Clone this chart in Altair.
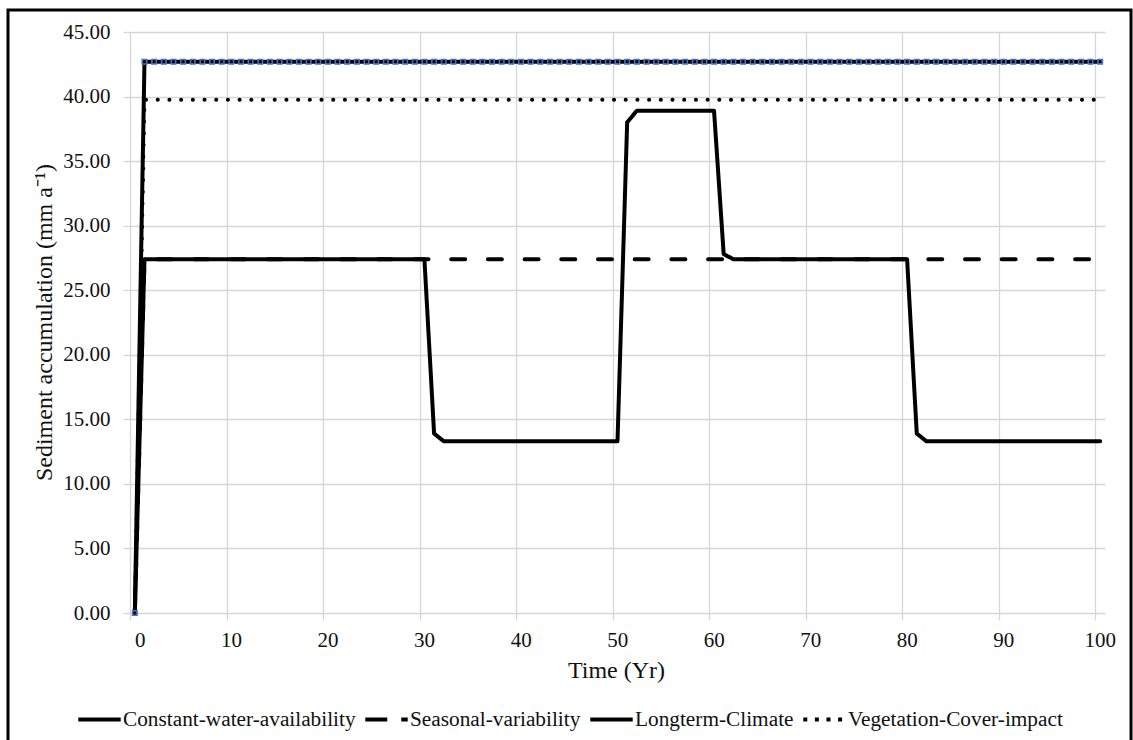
import altair as alt
import pandas as pd

# Model years 0..100
years = list(range(101))

series_names = [
    "Constant-water-availability",
    "Seasonal-variability",
    "Longterm-Climate",
    "Vegetation-Cover-impact",
]

# Sediment accumulation (mm a-1) per year, one list per scenario
constant_water = [
    0.00,
    42.70, 42.70, 42.70, 42.70, 42.70, 42.70, 42.70, 42.70, 42.70, 42.70,
    42.70, 42.70, 42.70, 42.70, 42.70, 42.70, 42.70, 42.70, 42.70, 42.70,
    42.70, 42.70, 42.70, 42.70, 42.70, 42.70, 42.70, 42.70, 42.70, 42.70,
    42.70, 42.70, 42.70, 42.70, 42.70, 42.70, 42.70, 42.70, 42.70, 42.70,
    42.70, 42.70, 42.70, 42.70, 42.70, 42.70, 42.70, 42.70, 42.70, 42.70,
    42.70, 42.70, 42.70, 42.70, 42.70, 42.70, 42.70, 42.70, 42.70, 42.70,
    42.70, 42.70, 42.70, 42.70, 42.70, 42.70, 42.70, 42.70, 42.70, 42.70,
    42.70, 42.70, 42.70, 42.70, 42.70, 42.70, 42.70, 42.70, 42.70, 42.70,
    42.70, 42.70, 42.70, 42.70, 42.70, 42.70, 42.70, 42.70, 42.70, 42.70,
    42.70, 42.70, 42.70, 42.70, 42.70, 42.70, 42.70, 42.70, 42.70, 42.70,
]

seasonal = [
    0.00,
    27.40, 27.40, 27.40, 27.40, 27.40, 27.40, 27.40, 27.40, 27.40, 27.40,
    27.40, 27.40, 27.40, 27.40, 27.40, 27.40, 27.40, 27.40, 27.40, 27.40,
    27.40, 27.40, 27.40, 27.40, 27.40, 27.40, 27.40, 27.40, 27.40, 27.40,
    27.40, 27.40, 27.40, 27.40, 27.40, 27.40, 27.40, 27.40, 27.40, 27.40,
    27.40, 27.40, 27.40, 27.40, 27.40, 27.40, 27.40, 27.40, 27.40, 27.40,
    27.40, 27.40, 27.40, 27.40, 27.40, 27.40, 27.40, 27.40, 27.40, 27.40,
    27.40, 27.40, 27.40, 27.40, 27.40, 27.40, 27.40, 27.40, 27.40, 27.40,
    27.40, 27.40, 27.40, 27.40, 27.40, 27.40, 27.40, 27.40, 27.40, 27.40,
    27.40, 27.40, 27.40, 27.40, 27.40, 27.40, 27.40, 27.40, 27.40, 27.40,
    27.40, 27.40, 27.40, 27.40, 27.40, 27.40, 27.40, 27.40, 27.40, 27.40,
]

longterm = [
    0.00,
    27.40, 27.40, 27.40, 27.40, 27.40, 27.40, 27.40, 27.40, 27.40, 27.40,
    27.40, 27.40, 27.40, 27.40, 27.40, 27.40, 27.40, 27.40, 27.40, 27.40,
    27.40, 27.40, 27.40, 27.40, 27.40, 27.40, 27.40, 27.40, 27.40, 27.40,
    13.90, 13.30, 13.30, 13.30, 13.30, 13.30, 13.30, 13.30, 13.30, 13.30,
    13.30, 13.30, 13.30, 13.30, 13.30, 13.30, 13.30, 13.30, 13.30, 13.30,
    38.00, 38.90, 38.90, 38.90, 38.90, 38.90, 38.90, 38.90, 38.90, 38.90,
    27.80, 27.40, 27.40, 27.40, 27.40, 27.40, 27.40, 27.40, 27.40, 27.40,
    27.40, 27.40, 27.40, 27.40, 27.40, 27.40, 27.40, 27.40, 27.40, 27.40,
    13.90, 13.30, 13.30, 13.30, 13.30, 13.30, 13.30, 13.30, 13.30, 13.30,
    13.30, 13.30, 13.30, 13.30, 13.30, 13.30, 13.30, 13.30, 13.30, 13.30,
]

vegetation = [
    0.00,
    39.75, 39.75, 39.75, 39.75, 39.75, 39.75, 39.75, 39.75, 39.75, 39.75,
    39.75, 39.75, 39.75, 39.75, 39.75, 39.75, 39.75, 39.75, 39.75, 39.75,
    39.75, 39.75, 39.75, 39.75, 39.75, 39.75, 39.75, 39.75, 39.75, 39.75,
    39.75, 39.75, 39.75, 39.75, 39.75, 39.75, 39.75, 39.75, 39.75, 39.75,
    39.75, 39.75, 39.75, 39.75, 39.75, 39.75, 39.75, 39.75, 39.75, 39.75,
    39.75, 39.75, 39.75, 39.75, 39.75, 39.75, 39.75, 39.75, 39.75, 39.75,
    39.75, 39.75, 39.75, 39.75, 39.75, 39.75, 39.75, 39.75, 39.75, 39.75,
    39.75, 39.75, 39.75, 39.75, 39.75, 39.75, 39.75, 39.75, 39.75, 39.75,
    39.75, 39.75, 39.75, 39.75, 39.75, 39.75, 39.75, 39.75, 39.75, 39.75,
    39.75, 39.75, 39.75, 39.75, 39.75, 39.75, 39.75, 39.75, 39.75, 39.75,
]

x_ticks = [0, 10, 20, 30, 40, 50, 60, 70, 80, 90, 100]
y_ticks = [0, 5, 10, 15, 20, 25, 30, 35, 40, 45]

# long table; drawing order: dotted and dashed first, solid on top
draw_order = [
    ("Vegetation-Cover-impact", vegetation),
    ("Seasonal-variability", seasonal),
    ("Constant-water-availability", constant_water),
    ("Longterm-Climate", longterm),
]
rows = []
for name, vals in draw_order:
    for t, v in zip(years, vals):
        rows.append({"year": t, "value": v, "series": name})
df = pd.DataFrame(rows)

FONT = "Liberation Serif"
GRID = "#d6d6d6"
INK = "#111111"

# categories sit in the middle of each yearly slot
base = alt.Chart(df).transform_calculate(xpos="datum.year + 0.5")

x_enc = alt.X(
    "xpos:Q",
    scale=alt.Scale(domain=[0, 101], nice=False, zero=False),
    axis=alt.Axis(
        values=x_ticks,
        format="d",
        title="Time (Yr)",
        titleX=486,
        titleY=64,
        titleBaseline="alphabetic",
        titleAlign="center",
        labelOffset=4.5,
        labelPadding=9,
        tickSize=7,
        domain=False,
    ),
)
y_enc = alt.Y(
    "value:Q",
    scale=alt.Scale(domain=[0, 45], nice=False),
    axis=alt.Axis(
        values=y_ticks,
        format=".2f",
        title="Sediment accumulation (mm a\u207b\u00b9)",
        titleAngle=270,
        titleX=-79,
        titleY=290,
        titleBaseline="alphabetic",
        titleAlign="center",
        labelPadding=13,
        tickSize=7,
        domain=False,
    ),
)

# plotted lines (round caps give the dotted series round dots)
lines = base.mark_line(
    color="black", strokeWidth=4, strokeCap="round", strokeJoin="round"
).encode(
    x=x_enc,
    y=y_enc,
    strokeDash=alt.StrokeDash(
        "series:N",
        scale=alt.Scale(
            domain=series_names,
            range=[[1, 0], [14, 22.7], [1, 0], [0.1, 11.6]],
        ),
        legend=None,
    ),
)

markers = base.transform_filter(
    alt.datum.series == "Constant-water-availability"
).mark_square(
    size=20, filled=False, stroke="#4472c4", strokeWidth=1.6, opacity=1
).encode(
    x="xpos:Q",
    y="value:Q",
)

# key: an empty line layer whose dash scale is tuned for butt-capped legend swatches
key = base.transform_filter("false").mark_line(color="black", strokeWidth=4).encode(
    x="xpos:Q",
    y="value:Q",
    strokeDash=alt.StrokeDash(
        "series:N",
        scale=alt.Scale(
            domain=series_names,
            range=[[1, 0], [22, 14], [1, 0], [4, 7.6]],
        ),
        legend=alt.Legend(
            title=None,
            orient="none",
            legendX=-54,
            legendY=664,
            direction="horizontal",
            symbolType="stroke",
            symbolSize=1800,
            symbolStrokeWidth=4,
            symbolStrokeColor="black",
            labelFont=FONT,
            labelFontSize=21.3,
            labelColor=INK,
            labelLimit=0,
            labelOffset=0,
            columnPadding=1,
        ),
    ),
)

# chart-area border
frame = alt.Chart(alt.Data(values=[{}])).mark_rect(
    fill="transparent", stroke="black", strokeWidth=3
).encode(
    x=alt.value(-122),
    x2=alt.value(1001),
    y=alt.value(-22),
    y2=alt.value(716),
)

chart = alt.layer(lines, markers, key, frame).resolve_scale(
    strokeDash="independent"
).properties(
    width=975,
    height=581,
    autosize=alt.AutoSizeParams(type="none"),
    padding={"left": 130, "top": 32, "right": 28, "bottom": 127},
    background="white",
).configure_view(stroke=None).configure_axis(
    grid=True,
    gridColor=GRID,
    gridWidth=1.3,
    tickColor=GRID,
    tickWidth=1.3,
    labelFont=FONT,
    labelFontSize=21,
    labelColor=INK,
    titleFont=FONT,
    titleFontSize=24,
    titleFontWeight="normal",
    titleColor=INK,
)

chart.save("out.html", embed_options={"renderer": "svg", "actions": False})
